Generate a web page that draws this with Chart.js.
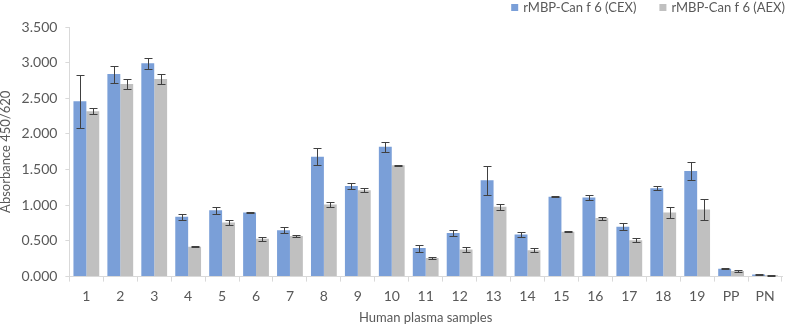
<!DOCTYPE html>
<html>
<head>
<meta charset="utf-8">
<script src="https://cdn.jsdelivr.net/npm/chart.js@4"></script>
<style>
  html, body { margin: 0; padding: 0; background: #fff; }
  #wrap { width: 786px; height: 326px; }
</style>
</head>
<body>
<div id="wrap"><canvas id="chart"></canvas></div>
<script>
const samples = ['1','2','3','4','5','6','7','8','9','10','11','12','13','14','15','16','17','18','19','PP','PN'];
const cexValues = [2.46, 2.84, 2.99, 0.84, 0.93, 0.90, 0.65, 1.68, 1.27, 1.82, 0.40, 0.61, 1.35, 0.59, 1.12, 1.11, 0.70, 1.24, 1.48, 0.11, 0.03];
const cexErrors = [0.37, 0.12, 0.08, 0.04, 0.05, 0.01, 0.04, 0.12, 0.04, 0.07, 0.05, 0.04, 0.20, 0.03, 0.01, 0.04, 0.05, 0.03, 0.13, 0.01, 0.005];
const aexValues = [2.32, 2.70, 2.77, 0.42, 0.76, 0.53, 0.57, 1.01, 1.21, 1.56, 0.26, 0.38, 0.98, 0.37, 0.63, 0.82, 0.51, 0.90, 0.94, 0.08, 0.02];
const aexErrors = [0.04, 0.07, 0.07, 0.005, 0.03, 0.03, 0.02, 0.03, 0.03, 0.01, 0.02, 0.03, 0.04, 0.03, 0.01, 0.02, 0.03, 0.08, 0.15, 0.01, 0.005];

const textColor = '#595959';
const axisColor = '#d9d9d9';
const fontFamily = 'Lato';

// error bars drawn on top of the bars
const errorBars = {
    id: 'errorBars',
    afterDatasetsDraw(chart) {
        const ctx = chart.ctx;
        const yScale = chart.scales.y;
        ctx.save();
        ctx.strokeStyle = '#404040';
        ctx.lineWidth = 1;
        chart.data.datasets.forEach((ds, di) => {
            const meta = chart.getDatasetMeta(di);
            meta.data.forEach((bar, i) => {
                const v = ds.data[i];
                const e = ds.errors[i];
                const top = Math.round(yScale.getPixelForValue(v + e)) + 0.5;
                const bot = Math.round(yScale.getPixelForValue(v - e)) + 0.5;
                const x = Math.round(bar.x) + 0.5;
                ctx.beginPath();
                ctx.moveTo(x, top); ctx.lineTo(x, bot);
                ctx.moveTo(x - 4, top); ctx.lineTo(x + 4, top);
                ctx.moveTo(x - 4, bot); ctx.lineTo(x + 4, bot);
                ctx.stroke();
            });
        });
        ctx.restore();
    }
};

// legend in the top right corner, Excel style spacing
const cornerLegend = {
    id: 'cornerLegend',
    afterDraw(chart) {
        const ctx = chart.ctx;
        ctx.save();
        ctx.font = '13px ' + fontFamily;
        ctx.textBaseline = 'middle';
        let right = 785;
        const y = 8;
        const items = chart.data.datasets.slice().reverse();
        items.forEach(ds => {
            const w = ctx.measureText(ds.label).width;
            const tx = right - w;
            ctx.fillStyle = textColor;
            ctx.fillText(ds.label, tx, y);
            ctx.fillStyle = ds.backgroundColor;
            ctx.fillRect(tx - 12, y - 4, 7, 7);
            right = tx - 12 - 23;
        });
        ctx.restore();
    }
};

new Chart(document.getElementById('chart'), {
    type: 'bar',
    data: {
        labels: samples,
        datasets: [{
            label: 'rMBP-Can f 6 (CEX)',
            data: cexValues,
            errors: cexErrors,
            backgroundColor: '#7a9fd8'
        }, {
            label: 'rMBP-Can f 6 (AEX)',
            data: aexValues,
            errors: aexErrors,
            backgroundColor: '#c0c0c0'
        }]
    },
    options: {
        responsive: true,
        maintainAspectRatio: false,
        animation: false,
        categoryPercentage: 0.76,
        barPercentage: 1.0,
        layout: { padding: { left: -2, right: 4, top: 27, bottom: 0 } },
        plugins: {
            tooltip: { enabled: false },
            legend: { display: false }
        },
        scales: {
            x: {
                grid: { display: true, drawOnChartArea: false, drawTicks: true, tickLength: 5, color: axisColor, offset: true },
                border: { color: axisColor },
                ticks: { color: textColor, font: { family: fontFamily, size: 14 }, padding: 6, maxRotation: 0 },
                title: {
                    display: true,
                    text: 'Human plasma samples',
                    color: textColor,
                    font: { family: fontFamily, size: 13 },
                    padding: { top: 0, bottom: 0 }
                }
            },
            y: {
                min: 0,
                max: 3.5,
                grid: { display: true, drawOnChartArea: false, drawTicks: true, tickLength: 4, color: axisColor },
                border: { color: axisColor },
                ticks: {
                    stepSize: 0.5,
                    color: textColor,
                    font: { family: fontFamily, size: 14 },
                    padding: 8,
                    callback: v => v.toFixed(3)
                },
                title: {
                    display: true,
                    text: 'Absorbance 450/620',
                    color: textColor,
                    font: { family: fontFamily, size: 13 },
                    padding: { top: 0, bottom: 0 }
                }
            }
        }
    },
    plugins: [errorBars, cornerLegend]
});
</script>
</body>
</html>
